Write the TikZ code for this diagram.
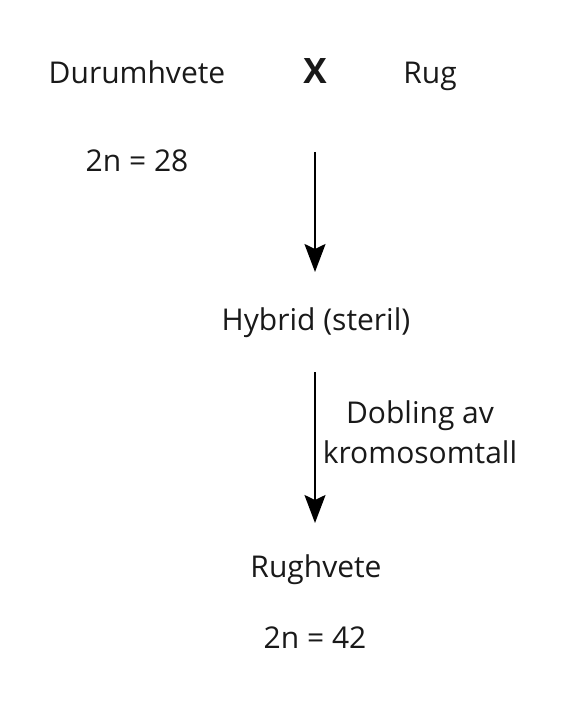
\documentclass[tikz,border=0pt]{standalone}
\usepackage{fontspec}
\setmainfont{Open Sans}
\usetikzlibrary{arrows.meta}
\tikzset{
  label text/.style={inner sep=0pt,anchor=base,text=black!90,font=\fontsize{30}{36}\selectfont},
  cross text/.style={label text,font=\fontsize{35}{40}\selectfont\bfseries},
  step arrow/.style={line width=2pt,-{Stealth[length=28pt,width=21pt,inset=5pt]}}
}
\begin{document}
\begin{tikzpicture}[x=1pt,y=-1pt]
\useasboundingbox (0,0) rectangle (564,711);

% parents
\node [label text] (durum) at (137,84) {Durumhvete};
\node [cross text] (cross) at (315,84) {X};
\node [label text] (rug) at (430,84) {Rug};
\node [label text] (durumn) at (137,172) {2n = 28};

% hybrid
\coordinate (a1top) at (315,152);
\coordinate (a1tip) at (315,272);
\draw [step arrow] (a1top) -- (a1tip);
\node [label text] (hybrid) at (316,330) {Hybrid (steril)};

% doubling
\coordinate (a2top) at (315,372);
\coordinate (a2tip) at (315,523);
\draw [step arrow] (a2top) -- (a2tip);
\node [label text] (dobling) at (420,423) {Dobling av};
\node [label text] (kromo) at (420,463) {kromosomtall};

% result
\node [label text] (rughvete) at (316,577) {Rughvete};
\node [label text] (rughveten) at (315,648) {2n = 42};
\end{tikzpicture}
\end{document}
